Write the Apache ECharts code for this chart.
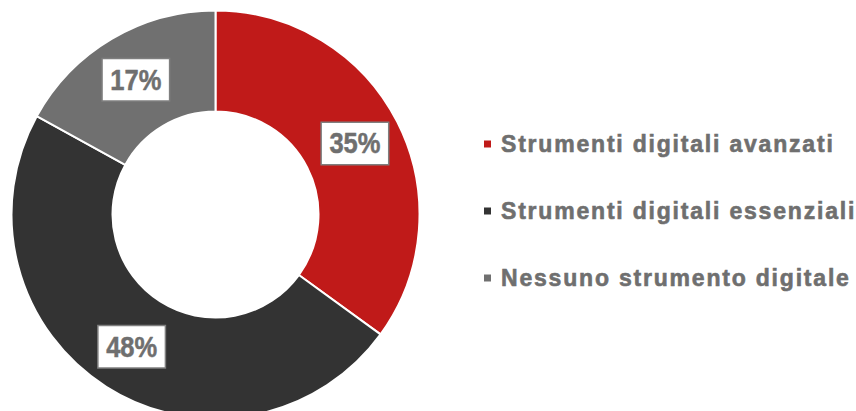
<!DOCTYPE html>
<html>
<head>
<meta charset="utf-8">
<script src="https://cdn.jsdelivr.net/npm/echarts@6/dist/echarts.min.js"></script>
<style>
  html, body { margin: 0; padding: 0; background: #ffffff; }
  #chart { width: 856px; height: 411px; }
</style>
</head>
<body>
<div id="chart"></div>
<script>
// Share of firms by level of digital tool adoption
const categories = [
  'Strumenti digitali avanzati',
  'Strumenti digitali essenziali',
  'Nessuno strumento digitale'
];
const shares = [35, 48, 17];
const colors = ['#C01A19', '#333333', '#707070'];

const chart = echarts.init(document.getElementById('chart'), null, { renderer: 'svg' });

chart.setOption({
  animation: false,
  color: colors,
  legend: {
    orient: 'vertical',
    left: 482,
    top: 131,
    padding: 0,
    itemWidth: 9,
    itemHeight: 9,
    itemGap: 41,
    icon: 'rect',
    selectedMode: false,
    data: categories,
    textStyle: {
      fontFamily: 'Liberation Sans, Arial, sans-serif',
      fontWeight: 'bold',
      fontSize: 23,
      lineHeight: 22,
      color: '#6F6F6F',
      textBorderColor: '#6F6F6F',
      textBorderWidth: 0.6,
      padding: [0, 0, 4, 4]
    }
  },
  series: [{
    type: 'pie',
    center: [215.5, 214.5],
    radius: [103, 204],
    startAngle: 90,
    clockwise: true,
    avoidLabelOverlap: false,
    itemStyle: { borderColor: '#ffffff', borderWidth: 2 },
    label: {
      show: true,
      position: 'inside',
      formatter: '{c}%',
      fontFamily: 'Liberation Sans, Arial, sans-serif',
      fontWeight: 'bold',
      fontSize: 29,
      lineHeight: 29,
      color: '#6F6F6F',
      textBorderColor: '#6F6F6F',
      textBorderWidth: 0.5,
      backgroundColor: '#ffffff',
      borderColor: '#7F7F7F',
      borderWidth: 1.5,
      padding: [6, 4, 6, 4]
    },
    labelLine: { show: false },
    emphasis: { disabled: true },
    data: categories.map((name, i) => ({ name, value: shares[i] }))
  }]
});

// Typographic tweaks on the rendered SVG text: tracked legend entries,
// condensed percentage labels.
document.querySelectorAll('#chart svg text').forEach(t => {
  const s = t.textContent;
  if (categories.includes(s)) {
    t.setAttribute('letter-spacing', '1.8');
  } else if (/%$/.test(s)) {
    t.setAttribute('textLength', '51');
    t.setAttribute('lengthAdjust', 'spacingAndGlyphs');
  }
});
</script>
</body>
</html>
